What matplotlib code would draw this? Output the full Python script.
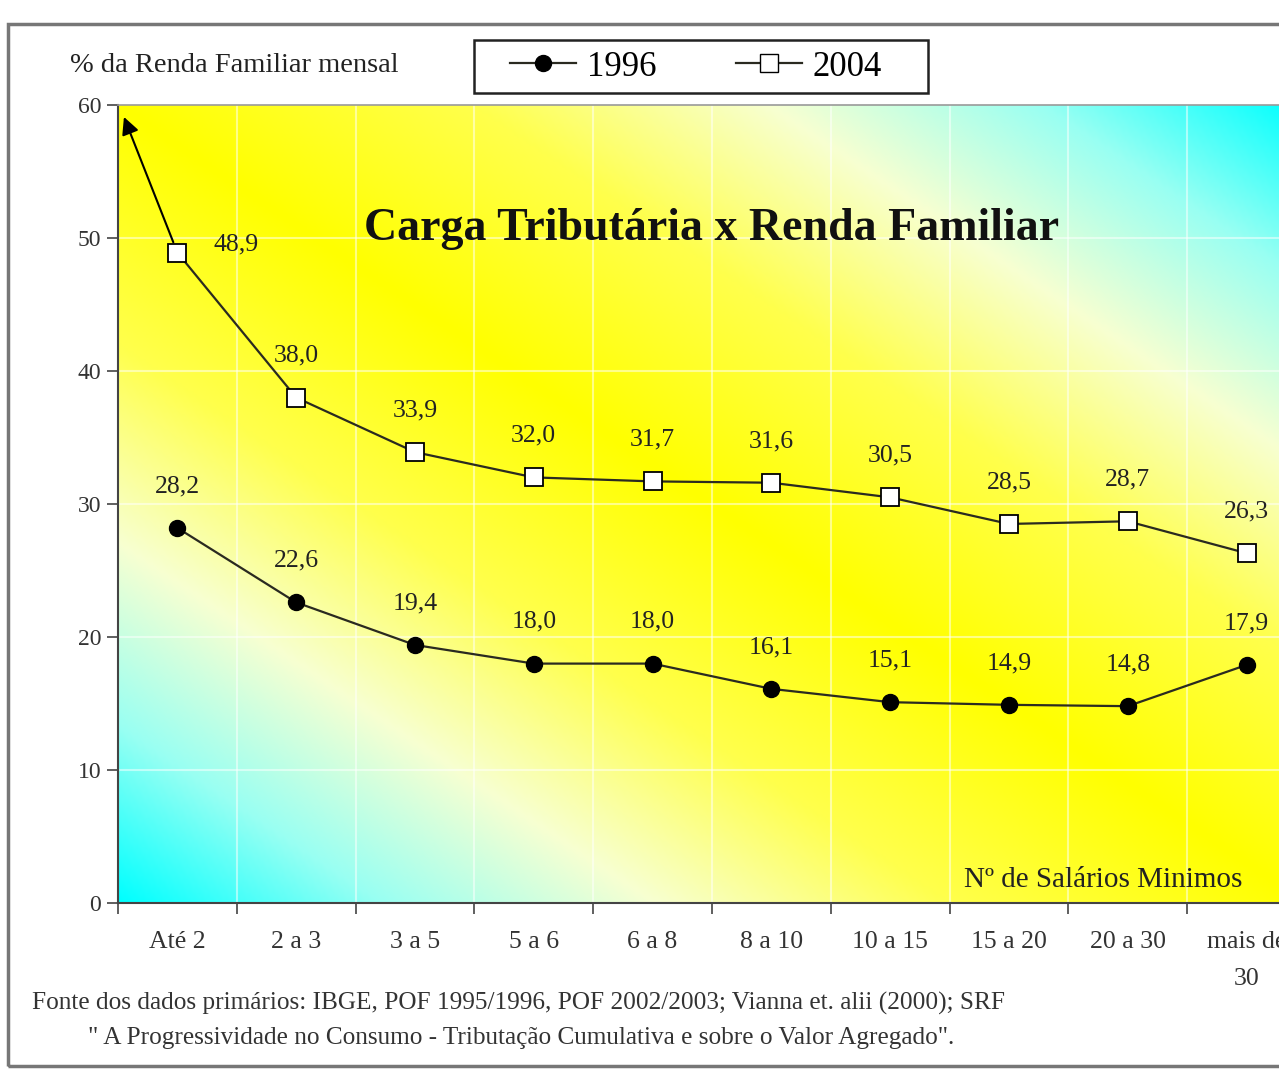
import numpy as np
import matplotlib
matplotlib.use('Agg')
import matplotlib.pyplot as plt
from matplotlib.colors import LinearSegmentedColormap
from matplotlib.patches import Rectangle
from matplotlib.lines import Line2D

plt.rcParams['font.family'] = ['Liberation Serif', 'DejaVu Serif']

# faixas de renda (nº de salários mínimos)
faixas = ['Até 2', '2 a 3', '3 a 5', '5 a 6', '6 a 8', '8 a 10', '10 a 15', '15 a 20', '20 a 30', 'mais de\n30']
carga_1996 = [28.2, 22.6, 19.4, 18.0, 18.0, 16.1, 15.1, 14.9, 14.8, 17.9]
carga_2004 = [48.9, 38.0, 33.9, 32.0, 31.7, 31.6, 30.5, 28.5, 28.7, 26.3]
yticks = [0, 10, 20, 30, 40, 50, 60]

W, H = 1279, 1073
fig = plt.figure(figsize=(W / 100, H / 100), dpi=100)
fig.patch.set_facecolor('white')

# plot area in pixel coords of the original (extends past right edge)
ax = fig.add_axes([118 / W, 1 - 903 / H, 1188 / W, 798 / H])

# diagonal yellow / cyan fill like the old excel chart
u, v = np.meshgrid(np.linspace(0, 1, 400), np.linspace(0, 1, 300))
d = np.abs(u - v)
cmap = LinearSegmentedColormap.from_list('fundo', [
    (0.0, (1.0, 1.0, 0.0)),
    (0.3, (1.0, 1.0, 0.3)),
    (0.55, (0.97, 1.0, 0.82)),
    (0.78, (0.6, 1.0, 0.95)),
    (1.0, (0.0, 1.0, 1.0))])
ax.imshow(d, cmap=cmap, extent=[0, 1, 0, 1], transform=ax.transAxes,
          aspect='auto', origin='upper', zorder=0, interpolation='bilinear')

x = np.arange(len(faixas))
ax.set_xlim(-0.5, 9.5)
ax.set_ylim(0, 60)

# faint white grid
for gy in yticks[1:-1]:
    ax.axhline(gy, color='white', lw=1.5, alpha=0.5, zorder=1)
for gx in np.arange(0.5, 9.5, 1):
    ax.axvline(gx, color='white', lw=1.5, alpha=0.5, zorder=1)

line_c = '#2a2a20'
ax.plot(x, carga_1996, color=line_c, lw=1.6, marker='o', ms=11.5,
        mfc='black', mec='black', zorder=4)
ax.plot(x, carga_2004, color=line_c, lw=1.6, marker='s', ms=13,
        mfc='white', mec='black', mew=1.3, zorder=4)

# arrow from first 2004 point to the top of the axis
ax.annotate('', xy=(-0.45, 59.1), xytext=(x[0], carga_2004[0]),
            arrowprops=dict(arrowstyle='-|>', color='black', lw=1.5,
                            mutation_scale=26, shrinkA=8, shrinkB=0), zorder=5)

def rotulo(v):
    return f'{v:.1f}'.replace('.', ',')

for xi, v in zip(x, carga_1996):
    ax.annotate(rotulo(v), (xi, v), xytext=(0, 30), textcoords='offset points',
                ha='center', va='center', fontsize=18.5, color='#222222', zorder=6)
for i, (xi, v) in enumerate(zip(x, carga_2004)):
    off = (42, 6) if i == 0 else (0, 30)
    ax.annotate(rotulo(v), (xi, v), xytext=off, textcoords='offset points',
                ha='center', va='center', fontsize=18.5, color='#222222', zorder=6)

ax.text(0.5, 0.845, 'Carga Tributária x Renda Familiar', transform=ax.transAxes,
        ha='center', va='center', fontsize=33, fontweight='bold', color='#111111')
ax.text(1124 / 1188, 0.012, 'Nº de Salários Minimos', transform=ax.transAxes,
        ha='right', va='bottom', fontsize=21, color='#222222')

# ticks
ax.set_yticks(yticks)
ax.tick_params(axis='y', length=8, width=1.2, color='#444444', pad=4,
               labelsize=17, labelcolor='#333333')
ax.set_xticks(x)
ax.set_xticklabels(faixas)
ax.tick_params(axis='x', which='major', length=0, pad=20, labelsize=18.5,
               labelcolor='#333333')
ax.set_xticks(np.arange(-0.5, 10, 1), minor=True)
ax.tick_params(axis='x', which='minor', length=8, width=1.2, color='#444444')
for lab in ax.get_xticklabels():
    lab.set_verticalalignment('top')
    lab.set_linespacing(1.9)

for s in ['left', 'bottom']:
    ax.spines[s].set_color('#444444')
    ax.spines[s].set_linewidth(1.5)
ax.spines['top'].set_color('#999999')
ax.spines['top'].set_linewidth(1.2)
ax.spines['right'].set_visible(False)

fig.text(70 / W, 1 - 66 / H, '% da Renda Familiar mensal', ha='left', va='center',
         fontsize=20.5, color='#222222')

# legend
fig.patches.append(Rectangle((474 / W, 1 - 93 / H), 454 / W, 53 / H,
                             transform=fig.transFigure, fill=False,
                             edgecolor='#222222', lw=1.8))
hs = [Line2D([], [], color=line_c, lw=1.6, marker='o', ms=11.5, mfc='black', mec='black'),
      Line2D([], [], color=line_c, lw=1.6, marker='s', ms=13, mfc='white', mec='black')]
fig.legend(hs, ['1996', '2004'], loc='center', bbox_to_anchor=(696 / W, 1 - 67 / H),
           ncol=2, frameon=False, fontsize=25, handlelength=1.9, handletextpad=0.3,
           columnspacing=2.3, borderpad=0.1)

# footer
fig.text(32 / W, 1 - 1003 / H,
         'Fonte dos dados primários: IBGE, POF 1995/1996, POF 2002/2003; Vianna et. alii (2000); SRF',
         ha='left', va='center', fontsize=18.2, color='#333333')
fig.text(88 / W, 1 - 1038 / H,
         '" A Progressividade no Consumo - Tributação Cumulativa e sobre o Valor Agregado".',
         ha='left', va='center', fontsize=18.2, color='#333333')

# outer frame
fig.patches.append(Rectangle((8 / W, 1 - 1066 / H), 1.1, 1042 / H,
                             transform=fig.transFigure, fill=False,
                             edgecolor='#777777', lw=2.5))

fig.savefig('out.png', dpi=100)
